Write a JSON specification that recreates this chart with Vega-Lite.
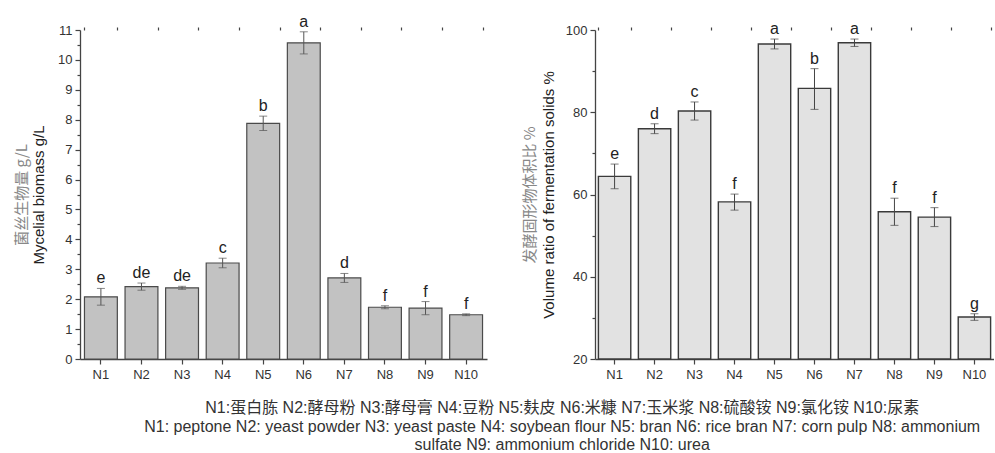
{
  "$schema": "https://vega.github.io/schema/vega-lite/v6.json",
  "background": "white",
  "padding": {"left": 14, "top": 13, "right": 0, "bottom": 0},
  "autosize": {"type": "pad"},
  "config": {
    "view": {"stroke": null},
    "font": "Liberation Sans",
    "axis": {
      "grid": false,
      "labelFont": "Liberation Sans",
      "labelFontSize": 13,
      "labelColor": "#333",
      "tickColor": "#444",
      "domainColor": "#444",
      "domainWidth": 1.3,
      "tickWidth": 1.2,
      "tickSize": 5,
      "labelPadding": 3,
      "titleFont": "Liberation Sans",
      "titleFontSize": 15,
      "titleFontWeight": "normal",
      "titleColor": "#222"
    }
  },
  "title": {
    "text": [
      "N1:蛋白胨 N2:酵母粉 N3:酵母膏 N4:豆粉 N5:麸皮 N6:米糠 N7:玉米浆 N8:硫酸铵 N9:氯化铵 N10:尿素",
      "N1: peptone N2: yeast powder N3: yeast paste N4: soybean flour N5: bran N6: rice bran N7: corn pulp N8: ammonium",
      "sulfate N9: ammonium chloride N10: urea"
    ],
    "orient": "bottom",
    "anchor": "middle",
    "font": "Liberation Sans, Noto Sans CJK SC",
    "fontSize": 16,
    "fontWeight": "normal",
    "color": "#333",
    "lineHeight": 18.5,
    "offset": 19,
    "dx": 58
  },
  "spacing": 35,
  "hconcat": [
    {
      "width": 407,
      "height": 329,
      "data": {
        "values": [
          {"n": "N1", "v": 2.08, "lo": 1.80, "hi": 2.36, "g": "e"},
          {"n": "N2", "v": 2.42, "lo": 2.30, "hi": 2.54, "g": "de"},
          {"n": "N3", "v": 2.38, "lo": 2.33, "hi": 2.43, "g": "de"},
          {"n": "N4", "v": 3.21, "lo": 3.05, "hi": 3.37, "g": "c"},
          {"n": "N5", "v": 7.88, "lo": 7.64, "hi": 8.12, "g": "b"},
          {"n": "N6", "v": 10.57, "lo": 10.20, "hi": 10.94, "g": "a"},
          {"n": "N7", "v": 2.71, "lo": 2.56, "hi": 2.86, "g": "d"},
          {"n": "N8", "v": 1.73, "lo": 1.68, "hi": 1.78, "g": "f"},
          {"n": "N9", "v": 1.70, "lo": 1.48, "hi": 1.92, "g": "f"},
          {"n": "N10", "v": 1.48, "lo": 1.45, "hi": 1.51, "g": "f"}
        ]
      },
      "layer": [
        {
          "mark": {"type": "bar", "fill": "#c2c2c2", "stroke": "#4a4a4a", "strokeWidth": 1.2},
          "encoding": {
            "x": {"field": "n", "type": "nominal", "sort": null,
                  "scale": {"paddingInner": 0.19, "paddingOuter": 0.11},
                  "axis": {"title": null, "labelAngle": 0, "labelPadding": 4}},
            "y": {"field": "v", "type": "quantitative",
                  "scale": {"domain": [0, 11], "nice": false, "zero": true},
                  "axis": {"values": [0,1,2,3,4,5,6,7,8,9,10,11], "title": "Mycelial biomass g/L", "titlePadding": 11}}
          }
        },
        {
          "mark": {"type": "point", "opacity": 0},
          "encoding": {
            "x": {"field": "n", "type": "nominal", "sort": null,
                  "axis": {"title": null, "labels": false, "tickBand": "extent", "tickSize": 3, "domain": false}},
            "y": {"field": "v", "type": "quantitative",
                  "axis": {"orient": "left", "values": [0.5,1.5,2.5,3.5,4.5,5.5,6.5,7.5,8.5,9.5,10.5], "labels": false, "tickSize": 3, "domain": false,
                           "title": "菌丝生物量 g/L", "titleFont": "Noto Sans CJK SC", "titleColor": "#888", "titlePadding": 47}}
          }
        },
        {
          "mark": {"type": "rule", "color": "#555", "strokeWidth": 1},
          "encoding": {
            "x": {"field": "n", "type": "nominal", "sort": null, "axis": null},
            "y": {"field": "lo", "type": "quantitative", "axis": null},
            "y2": {"field": "hi"}
          }
        },
        {
          "mark": {"type": "tick", "color": "#555", "size": 8, "thickness": 1, "orient": "horizontal"},
          "encoding": {
            "x": {"field": "n", "type": "nominal", "sort": null, "axis": null},
            "y": {"field": "hi", "type": "quantitative", "axis": null}
          }
        },
        {
          "mark": {"type": "tick", "color": "#555", "size": 8, "thickness": 1, "orient": "horizontal"},
          "encoding": {
            "x": {"field": "n", "type": "nominal", "sort": null, "axis": null},
            "y": {"field": "lo", "type": "quantitative", "axis": null}
          }
        },
        {
          "mark": {"type": "text", "dy": -5, "baseline": "alphabetic", "fontSize": 16, "color": "#222", "font": "Liberation Sans"},
          "encoding": {
            "x": {"field": "n", "type": "nominal", "sort": null, "axis": null},
            "y": {"field": "hi", "type": "quantitative", "axis": null},
            "text": {"field": "g"}
          }
        }
      ],
      "resolve": {"axis": {"x": "independent", "y": "independent"}}
    },
    {
      "width": 399,
      "height": 329,
      "data": {
        "values": [
          {"n": "N1", "v": 64.4, "lo": 61.4, "hi": 67.4, "g": "e"},
          {"n": "N2", "v": 76.0, "lo": 74.8, "hi": 77.2, "g": "d"},
          {"n": "N3", "v": 80.3, "lo": 78.1, "hi": 82.5, "g": "c"},
          {"n": "N4", "v": 58.2, "lo": 56.2, "hi": 60.1, "g": "f"},
          {"n": "N5", "v": 96.6, "lo": 95.4, "hi": 97.8, "g": "a"},
          {"n": "N6", "v": 85.8, "lo": 80.7, "hi": 90.6, "g": "b"},
          {"n": "N7", "v": 96.9, "lo": 96.0, "hi": 97.8, "g": "a"},
          {"n": "N8", "v": 55.8, "lo": 52.5, "hi": 59.1, "g": "f"},
          {"n": "N9", "v": 54.5, "lo": 52.2, "hi": 56.8, "g": "f"},
          {"n": "N10", "v": 30.2, "lo": 29.4, "hi": 31.0, "g": "g"}
        ]
      },
      "layer": [
        {
          "mark": {"type": "bar", "fill": "#e2e2e2", "stroke": "#3a3a3a", "strokeWidth": 1.4},
          "encoding": {
            "x": {"field": "n", "type": "nominal", "sort": null,
                  "scale": {"paddingInner": 0.19, "paddingOuter": 0.085},
                  "axis": {"title": null, "labelAngle": 0, "labelPadding": 4}},
            "y": {"field": "v", "type": "quantitative",
                  "scale": {"domain": [20, 100], "nice": false, "zero": false},
                  "axis": {"values": [20, 40, 60, 80, 100], "title": "Volume ratio of fermentation solids %", "titlePadding": 9}},
            "y2": {"datum": 20}
          }
        },
        {
          "mark": {"type": "point", "opacity": 0},
          "encoding": {
            "x": {"field": "n", "type": "nominal", "sort": null,
                  "axis": {"title": null, "labels": false, "tickBand": "extent", "tickSize": 3, "domain": false}},
            "y": {"field": "v", "type": "quantitative",
                  "axis": {"orient": "left", "values": [30, 50, 70, 90], "labels": false, "tickSize": 3, "domain": false,
                           "title": "发酵固形物体积比 %", "titleFont": "Noto Sans CJK SC", "titleColor": "#888", "titlePadding": 54}}
          }
        },
        {
          "mark": {"type": "rule", "color": "#444", "strokeWidth": 1},
          "encoding": {
            "x": {"field": "n", "type": "nominal", "sort": null, "axis": null},
            "y": {"field": "lo", "type": "quantitative", "axis": null},
            "y2": {"field": "hi"}
          }
        },
        {
          "mark": {"type": "tick", "color": "#444", "size": 8, "thickness": 1, "orient": "horizontal"},
          "encoding": {
            "x": {"field": "n", "type": "nominal", "sort": null, "axis": null},
            "y": {"field": "hi", "type": "quantitative", "axis": null}
          }
        },
        {
          "mark": {"type": "tick", "color": "#444", "size": 8, "thickness": 1, "orient": "horizontal"},
          "encoding": {
            "x": {"field": "n", "type": "nominal", "sort": null, "axis": null},
            "y": {"field": "lo", "type": "quantitative", "axis": null}
          }
        },
        {
          "mark": {"type": "text", "dy": -5, "baseline": "alphabetic", "fontSize": 16, "color": "#222", "font": "Liberation Sans"},
          "encoding": {
            "x": {"field": "n", "type": "nominal", "sort": null, "axis": null},
            "y": {"field": "hi", "type": "quantitative", "axis": null},
            "text": {"field": "g"}
          }
        }
      ],
      "resolve": {"axis": {"x": "independent", "y": "independent"}}
    }
  ]
}
